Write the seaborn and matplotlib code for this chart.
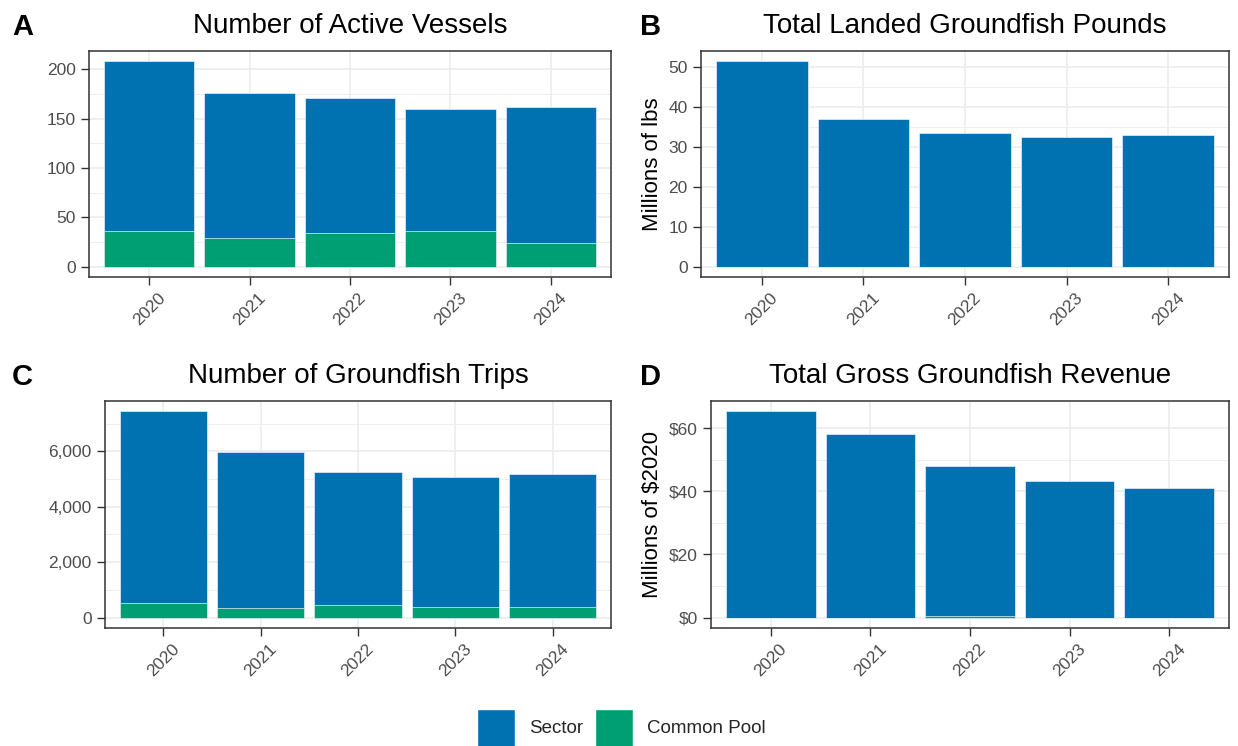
import numpy as np
import pandas as pd
import seaborn as sns
import matplotlib
matplotlib.use("Agg")
import matplotlib.pyplot as plt
from matplotlib.patches import Patch
from matplotlib.ticker import FuncFormatter, MultipleLocator

# 数据
years = ["2020", "2021", "2022", "2023", "2024"]

vessels_sector = [172, 147, 137, 124, 138]
vessels_common = [36, 29, 34, 36, 24]

pounds_sector = [51.5, 37.1, 33.5, 32.6, 33.1]      # 百万磅
pounds_common = [0, 0, 0, 0, 0]

trips_sector = [6924, 5640, 4812, 4680, 4812]
trips_common = [516, 336, 444, 384, 384]

revenue_sector = [65.3, 58.0, 47.5, 43.4, 41.1]     # 百万美元(2020)
revenue_common = [0, 0, 0.4, 0, 0]

titles = ["Number of Active Vessels", "Total Landed Groundfish Pounds",
          "Number of Groundfish Trips", "Total Gross Groundfish Revenue"]
letters = ["A", "B", "C", "D"]
ylabels = ["", "Millions of lbs", "", "Millions of $2020"]

sector_col = "#0072B2"
common_col = "#009E73"

sns.set_theme(style="white")
plt.rcParams['font.family'] = ['Liberation Sans', 'DejaVu Sans']

W, H = 1238, 746
fig = plt.figure(figsize=(W / 100, H / 100), dpi=100)

# 每个面板的像素框：左、右、上、下
boxes = [(89, 611, 51, 277), (701, 1229, 51, 277),
         (105, 611, 401, 628), (711, 1229, 401, 628)]
letter_pos = [(12, 35), (640, 35), (12, 385), (640, 385)]
major_steps = [50, 10, 2000, 20]

panels = [(vessels_sector, vessels_common), (pounds_sector, pounds_common),
          (trips_sector, trips_common), (revenue_sector, revenue_common)]

fmt_plain = FuncFormatter(lambda v, p: f"{v:g}")
fmt_comma = FuncFormatter(lambda v, p: f"{v:,.0f}")
fmt_dollar = FuncFormatter(lambda v, p: f"${v:.0f}")
formatters = [fmt_plain, fmt_plain, fmt_comma, fmt_dollar]

for i, (sec, com) in enumerate(panels):
    l, r, t, b = boxes[i]
    ax = fig.add_axes([l / W, 1 - b / H, (r - l) / W, (b - t) / H])
    df = pd.DataFrame({"year": years, "sector": sec, "common": com})
    df["total"] = df["sector"] + df["common"]

    ax.set_axisbelow(True)
    sns.barplot(data=df, x="year", y="total", color=sector_col, saturation=1,
                width=0.9, edgecolor="#E6F0F8", linewidth=0.5, ax=ax)
    sns.barplot(data=df, x="year", y="common", color=common_col, saturation=1,
                width=0.9, edgecolor="#E6F0F8", linewidth=0.5, ax=ax)

    top = df["total"].max()
    ax.set_ylim(-0.05 * top, 1.05 * top)
    ax.set_xlim(-0.6, 4.6)
    step = major_steps[i]
    ax.yaxis.set_major_locator(MultipleLocator(step))
    ax.yaxis.set_minor_locator(MultipleLocator(step / 2))
    ax.yaxis.set_major_formatter(formatters[i])

    ax.grid(True, which="major", color="#EBEBEB", linewidth=1.1)
    ax.grid(True, which="minor", axis="y", color="#EBEBEB", linewidth=0.6)
    for s in ax.spines.values():
        s.set_color("#333333")
        s.set_linewidth(1.1)

    ax.tick_params(axis="both", which="major", length=5.5, width=1, color="#333333",
                   labelcolor="#4D4D4D", labelsize=12.5, pad=4, bottom=True, left=True)
    ax.tick_params(axis="y", which="minor", length=0)
    for lab in ax.get_xticklabels():
        lab.set_rotation(45)
        lab.set_ha("center")
        lab.set_va("top")

    ax.set_xlabel("")
    ax.set_ylabel(ylabels[i], fontsize=16, color="black", labelpad=4)
    ax.set_title(titles[i], fontsize=20, color="black", pad=13)

    lx, ly = letter_pos[i]
    fig.text(lx / W, 1 - ly / H, letters[i], fontsize=21, fontweight="bold",
             color="black", va="baseline")

handles = [Patch(facecolor=sector_col, label="Sector"),
           Patch(facecolor=common_col, label="Common Pool")]
fig.legend(handles=handles, loc="upper left", bbox_to_anchor=(477 / W, 1 - 709 / H),
           ncol=2, frameon=False, fontsize=13.5, handlelength=2.05, handleheight=2.7,
           handletextpad=0.75, columnspacing=0.6, borderpad=0, borderaxespad=0)

fig.savefig("out.png", dpi=100)
